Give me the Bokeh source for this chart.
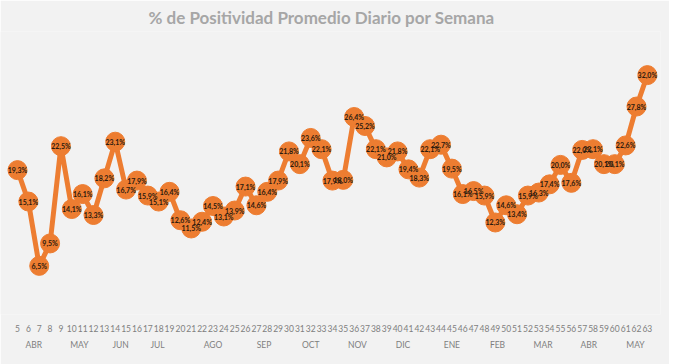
from bokeh.plotting import figure
from bokeh.models import ColumnDataSource, Range1d, FixedTicker, LinearAxis
from bokeh.core.properties import value
from bokeh.embed import file_html
from bokeh.resources import INLINE

weeks = list(range(5, 64))
positividad = [19.3, 15.1, 6.5, 9.5, 22.5, 14.1, 16.1, 13.3, 18.2, 23.1,
               16.7, 17.9, 15.9, 15.1, 16.4, 12.6, 11.5, 12.4, 14.5, 13.1,
               13.9, 17.1, 14.6, 16.4, 17.9, 21.8, 20.1, 23.6, 22.1, 17.9,
               18.0, 26.4, 25.2, 22.1, 21.0, 21.8, 19.4, 18.3, 22.1, 22.7,
               19.5, 16.1, 16.5, 15.9, 12.3, 14.6, 13.4, 15.9, 16.3, 17.4,
               20.0, 17.6, 22.0, 22.1, 20.1, 20.1, 22.6, 27.8, 32.0]
month_pos = [6.5, 10.7, 14.5, 17.9, 23.0, 27.7, 32.0, 36.3, 40.5, 45.0,
             49.2, 53.4, 57.6, 61.9]
month_names = ["ABR", "MAY", "JUN", "JUL", "AGO", "SEP", "OCT", "NOV", "DIC",
               "ENE", "FEB", "MAR", "ABR", "MAY"]
title_text = "% de Positividad Promedio Diario por Semana"

labels = [("%.1f%%" % v).replace(".", ",") for v in positividad]
src = ColumnDataSource(dict(x=weeks, y=positividad, lab=labels))

BG = "#f2f2f2"
ORANGE = "#ED7D31"

p = figure(width=669, height=364,
           x_range=Range1d(3.435, 64.21), y_range=Range1d(0, 37.83),
           output_backend="svg", toolbar_location=None,
           y_axis_location=None,
           min_border_left=0, min_border_right=9,
           min_border_top=28, min_border_bottom=50,
           background_fill_color=BG, border_fill_color=BG,
           outline_line_color=None)

p.title.text = title_text
p.title.align = "left"
p.title.offset = 148
p.title.standoff = 8
p.title.text_font = "Lato"
p.title.text_font_size = "17px"
p.title.text_font_style = "bold"
p.title.text_color = "#a6a6a6"

p.xgrid.visible = False
p.ygrid.visible = False

ax = p.xaxis[0]
ax.ticker = FixedTicker(ticks=weeks)
ax.axis_line_color = None
ax.major_tick_line_color = None
ax.minor_tick_line_color = None
ax.major_tick_out = 0
ax.major_label_standoff = 10
ax.major_label_text_font = "Lato"
ax.major_label_text_font_size = "8.5px"
ax.major_label_text_color = "#7f7f7f"

max_ = LinearAxis(ticker=FixedTicker(ticks=month_pos),
                  major_label_overrides={m: n for m, n in zip(month_pos, month_names)})
max_.axis_line_color = None
max_.major_tick_line_color = None
max_.minor_tick_line_color = None
max_.major_tick_out = 0
max_.major_label_standoff = 5
max_.major_label_text_font = "Lato"
max_.major_label_text_font_size = "8.5px"
max_.major_label_text_color = "#7f7f7f"
p.add_layout(max_, "below")

p.line("x", "y", source=src, line_color=ORANGE, line_width=5)
p.scatter("x", "y", source=src, size=19, fill_color=ORANGE, line_color=ORANGE)
p.text("x", "y", text="lab", source=src, text_align="center",
       text_baseline="middle", text_font=value("Lato"),
       text_font_size="7px", text_font_style="bold", text_color="#2b1a0e")

open("out.html", "w").write(file_html(p, INLINE))
